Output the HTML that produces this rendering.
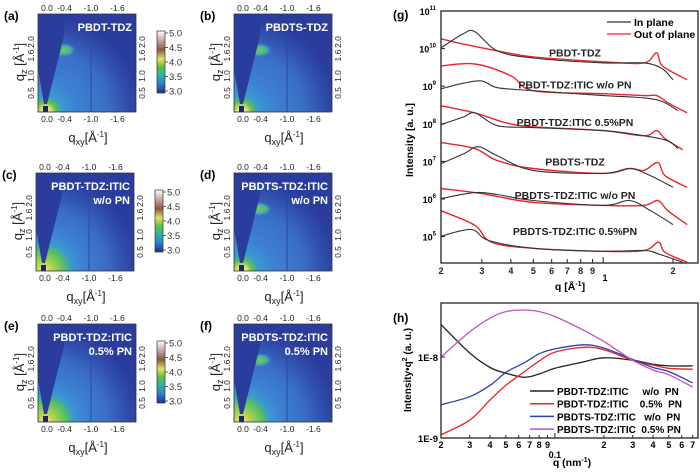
<!DOCTYPE html>
<html><head><meta charset="utf-8">
<style>
html,body{margin:0;padding:0;background:#fff;}
svg{display:block;font-family:"Liberation Sans",Arial,sans-serif;}
</style></head>
<body>
<svg id="fig" width="700" height="474" viewBox="0 0 700 474" xmlns="http://www.w3.org/2000/svg">
<defs>
  <linearGradient id="cbar" x1="0" y1="1" x2="0" y2="0">
    <stop offset="0" stop-color="#1f2f8f"/>
    <stop offset="0.15" stop-color="#2f7fd0"/>
    <stop offset="0.3" stop-color="#2fb5a0"/>
    <stop offset="0.42" stop-color="#5cc040"/>
    <stop offset="0.55" stop-color="#e8e060"/>
    <stop offset="0.7" stop-color="#8a5a40"/>
    <stop offset="0.85" stop-color="#c8a8a0"/>
    <stop offset="1" stop-color="#ffffff"/>
  </linearGradient>
  <radialGradient id="ringA" cx="0.08" cy="1" r="1.05">
    <stop offset="0" stop-color="#f4f0d0"/>
    <stop offset="0.05" stop-color="#e0e070"/>
    <stop offset="0.1" stop-color="#5cc050"/>
    <stop offset="0.16" stop-color="#3a9ad0"/>
    <stop offset="0.3" stop-color="#3d82d2"/>
    <stop offset="0.6" stop-color="#3a6ec6"/>
    <stop offset="0.78" stop-color="#3050ae"/>
    <stop offset="0.92" stop-color="#2b3d9c"/>
  </radialGradient>
  <radialGradient id="ringB" cx="0.08" cy="1" r="1.05">
    <stop offset="0" stop-color="#f4f0d0"/>
    <stop offset="0.06" stop-color="#c8d850"/>
    <stop offset="0.2" stop-color="#56c060"/>
    <stop offset="0.27" stop-color="#3a9ad0"/>
    <stop offset="0.38" stop-color="#3d82d2"/>
    <stop offset="0.6" stop-color="#3a6ec6"/>
    <stop offset="0.78" stop-color="#3050ae"/>
    <stop offset="0.92" stop-color="#2b3d9c"/>
  </radialGradient>
  <radialGradient id="spot" cx="0.5" cy="0.5" r="0.5">
    <stop offset="0" stop-color="#6ccf50"/>
    <stop offset="0.6" stop-color="#4cb0a0"/>
    <stop offset="1" stop-color="#3d8fd8" stop-opacity="0"/>
  </radialGradient>
</defs>
<g id="maps"></g>
<g id="g-plot"></g>
<g id="h-plot"></g>
</svg>
<script>
// ---------- data: panel (g) ----------
const gQ1 = [0.2,0.25,0.28,0.35,0.5,1.0,1.5,1.8,2.0];
const gIn1 = [10.02,10.40,10.45,9.94,9.75,9.62,9.62,9.46,9.17];
const gQ1r = [0.2,0.25,0.35,0.5,1.0,1.5,1.7,1.8,2.3];
const gOut1 = [10.26,10.12,9.94,9.78,9.65,9.62,9.89,9.54,9.17];
const gQ2 = [0.2,0.25,0.3,0.35,0.5,1.0,1.5,1.8,2.1];
const gIn2 = [8.93,9.08,9.14,8.96,8.88,8.75,8.69,8.59,8.35];
const gQ2r = [0.2,0.28,0.4,0.5,1.0,1.5,1.7,1.9,2.3];
const gOut2 = [9.54,9.59,9.28,8.88,8.80,8.75,8.75,8.56,8.29];
const gQ3 = [0.2,0.25,0.28,0.35,0.5,1.0,1.5,1.9,2.1];
const gIn3 = [7.98,8.18,8.29,7.95,7.90,7.82,7.68,7.55,7.34];
const gQ3r = [0.2,0.28,0.38,0.5,1.0,1.5,1.7,1.85,2.2];
const gOut3 = [8.48,8.29,8.03,7.92,7.82,7.68,7.82,7.60,7.31];
const gQ4 = [0.2,0.25,0.29,0.35,0.5,1.0,1.3,1.6,2.0];
const gIn4 = [6.94,7.20,7.39,7.15,6.76,6.68,6.81,6.62,6.31];
const gQ4r = [0.2,0.28,0.35,0.5,1.0,1.3,1.5,1.72,1.85,2.3];
const gOut4 = [7.50,7.34,7.02,6.81,6.68,6.81,6.76,6.97,6.62,6.31];
const gQ5 = [0.2,0.28,0.35,0.5,1.0,1.3,1.6,2.0];
const gIn5 = [6.01,6.17,6.12,5.96,5.83,5.96,5.69,5.32];
const gQ5r = [0.2,0.28,0.35,0.5,1.0,1.5,1.72,1.9,2.3];
const gOut5 = [6.28,6.17,6.07,5.91,5.83,5.83,5.96,5.69,5.32];
const gQ6 = [0.2,0.27,0.32,0.5,1.0,1.5,1.75,2.2];
const gIn6 = [5.01,5.19,4.90,4.69,4.61,4.63,4.53,4.32];
const gQ6r = [0.2,0.28,0.33,0.5,1.0,1.5,1.73,1.85,2.3];
const gOut6 = [5.69,5.30,4.85,4.69,4.61,4.63,4.85,4.58,4.32];
const gXTickVals = [0.2,0.3,0.4,0.5,0.6,0.7,0.8,0.9,1,2];
const gXTickLabels = ["2","3","4","5","6","7","8","9","","2"];
const gYTickExp = [11,10,9,8,7,6,5];
const gCurveLabels = ["PBDT-TDZ","PBDT-TDZ:ITIC w/o PN","PBDT-TDZ:ITIC 0.5%PN","PBDTS-TDZ","PBDTS-TDZ:ITIC w/o PN","PBDTS-TDZ:ITIC 0.5%PN"];
const gLabelLog = [9.9,9.05,8.05,7.0,6.1,5.15];

// ---------- data: panel (h) ----------
const hQ = [0.02,0.03,0.04,0.05,0.065,0.08,0.1,0.15,0.2,0.3,0.4,0.5,0.7];
const hBlack = [-7.60,-7.95,-8.13,-8.20,-8.25,-8.21,-8.14,-8.06,-8.01,-8.04,-8.09,-8.11,-8.11];
const hRed = [-8.96,-8.78,-8.53,-8.35,-8.18,-8.05,-7.94,-7.88,-7.91,-8.04,-8.10,-8.14,-8.15];
const hBlue = [-8.59,-8.49,-8.35,-8.19,-8.07,-7.96,-7.90,-7.85,-7.89,-8.03,-8.13,-8.18,-8.32];
const hMag = [-8.00,-7.69,-7.52,-7.44,-7.42,-7.44,-7.50,-7.67,-7.81,-8.04,-8.16,-8.22,-8.37];
const hXTickVals = [0.02,0.03,0.04,0.05,0.06,0.07,0.08,0.09,0.1,0.2,0.3,0.4,0.5,0.6,0.7];
const hXTickLabels = ["2","3","4","5","6","7","8","9","","2","3","4","5","6","7"];
const hLegend = ["PBDT-TDZ:ITIC     w/o  PN","PBDT-TDZ:ITIC    0.5%  PN","PBDTS-TDZ:ITIC   w/o  PN","PBDTS-TDZ:ITIC  0.5% PN"];

// ---------- data: GIWAXS panels ----------
const mapLetters = ["(a)","(b)","(c)","(d)","(e)","(f)"];
const mapTitles1 = ["PBDT-TDZ","PBDTS-TDZ","PBDT-TDZ:ITIC","PBDTS-TDZ:ITIC","PBDT-TDZ:ITIC","PBDTS-TDZ:ITIC"];
const mapTitles2 = ["","","w/o PN","w/o PN","0.5% PN","0.5% PN"];
const mapSpot = [1,1,0.3,1,0.4,1];
const qxyTicks = ["0.0","-0.4","-1.0","-1.6"];
const qxyVals = [0,-0.4,-1.0,-1.6];
const qzTicks = ["0.5","1.0","1.6","2.0"];
const qzVals = [0.5,1.0,1.6,2.0];
const cbTicks = ["5.0","4.5","4.0","3.5","3.0"];

const NS = "http://www.w3.org/2000/svg";
function mk(tag, attrs, parent, text){
  const e = document.createElementNS(NS, tag);
  for (const k in attrs) e.setAttribute(k, attrs[k]);
  if (text !== undefined) e.textContent = text;
  parent.appendChild(e);
  return e;
}

// ================= GIWAXS maps =================
const maps = document.getElementById('maps');
const mapPos = [[38,14],[234,14],[36,173],[234,173],[38,324],[234,324]];
mapPos.forEach((p, i) => {
  const [x0, y0] = p, S = 98;
  const g = mk('g', {}, maps);
  
  
  const qx = v => x0 + 9 + (-v) * 44;
  const qz = v => y0 + S - 2 - v * 34;
  const letter = mk('text', {x: x0 - 34, y: y0 + 6, 'font-size': 12, 'font-weight': 'bold'}, g, mapLetters[i]);
  
  
  mk('rect', {x: x0, y: y0, width: S, height: S, fill: '#2b3d9c'}, g);
  mk('rect', {x: x0, y: y0, width: S, height: S, fill: (i >= 4 || i === 2) ? 'url(#ringB)' : 'url(#ringA)'}, g);
  if (mapSpot[i] > 0.5) mk('ellipse', {cx: x0 + 25, cy: y0 + 36, rx: 13, ry: 7, fill: 'url(#spot)', opacity: mapSpot[i]}, g);
  // wedge (missing region near qxy = 0)
  mk('polygon', {points: `${x0},${y0} ${x0+26},${y0} ${x0+26},${y0+22} ${x0+9},${y0+S-8} ${x0+6},${y0+S-8} ${x0},${y0+55}`, fill: '#2b3d9c'}, g);
  mk('rect', {x: x0 + 5, y: y0 + S - 6, width: 5, height: 6, fill: '#1a2470'}, g);
  mk('line', {x1: qx(-1.0), y1: y0 + 24, x2: qx(-1.0), y2: y0 + S, stroke: '#2a4aa0', 'stroke-width': 1}, g);
  mk('rect', {x: x0, y: y0, width: S, height: S, fill: 'none', stroke: '#333', 'stroke-width': 0.8}, g);
  const t1 = mk('text', {x: x0 + S - 4, y: y0 + 17, 'font-size': 11, 'font-weight': 'bold', fill: '#fff', 'text-anchor': 'end'}, g, mapTitles1[i]);
  
  
  if (mapTitles2[i]) {
    const t2 = mk('text', {x: x0 + S - 4, y: y0 + 31, 'font-size': 11, 'font-weight': 'bold', fill: '#fff', 'text-anchor': 'end'}, g, mapTitles2[i]);
    
    
  }
  qxyVals.forEach((v, k) => {
    mk('text', {x: qx(v), y: y0 - 3, 'font-size': 8.5, 'text-anchor': 'middle', fill: '#222'}, g, qxyTicks[k]);
    mk('text', {x: qx(v), y: y0 + S + 10, 'font-size': 8.5, 'text-anchor': 'middle', fill: '#222'}, g, qxyTicks[k]);
  });
  qzVals.forEach((v, k) => {
    mk('text', {x: 0, y: 0, 'font-size': 8.5, 'text-anchor': 'middle', fill: '#222', transform: `translate(${x0 - 4},${qz(v)}) rotate(-90)`}, g, qzTicks[k]);
    mk('text', {x: 0, y: 0, 'font-size': 8.5, 'text-anchor': 'middle', fill: '#222', transform: `translate(${x0 + S + 9},${qz(v)}) rotate(-90)`}, g, qzTicks[k]);
  });
  const xl = mk('text', {x: x0 + 50, y: y0 + S + 30, 'font-size': 13, 'text-anchor': 'middle', fill: '#222'}, g);
  
  
  xl.innerHTML = 'q<tspan font-size="9" dy="3">xy</tspan><tspan dy="-3">[Å</tspan><tspan font-size="8" dy="-5">-1</tspan><tspan dy="5">]</tspan>';
  const yl = mk('text', {x: 0, y: 0, 'font-size': 13, 'text-anchor': 'middle', fill: '#222', transform: `translate(${x0 - 14},${y0 + 48}) rotate(-90)`}, g);
  
  
  yl.innerHTML = 'q<tspan font-size="9" dy="3">z</tspan><tspan dy="-3"> [Å</tspan><tspan font-size="8" dy="-5">-1</tspan><tspan dy="5">]</tspan>';
  if (i % 2 === 0) {
    const cx = x0 + 119, cy = y0 + 17, ch = 62;
    const cb = mk('rect', {x: cx, y: cy, width: 8, height: ch, fill: 'url(#cbar)', stroke: '#333', 'stroke-width': 0.7}, g);
    
    
    cbTicks.forEach((t, k) => {
      const yy = cy + 2 + k * (ch - 4) / 4;
      mk('line', {x1: cx + 8, y1: yy, x2: cx + 11, y2: yy, stroke: '#333', 'stroke-width': 0.8}, g);
      mk('text', {x: cx + 12, y: yy + 3.5, 'font-size': 9.5, fill: '#333'}, g, t);
    });
  }
});

// ================= panel (g) =================
const G = document.getElementById('g-plot');
const gL = 441, gR = 698, gT = 11, gB = 263;
const gx = q => gL + 232 * Math.log10(q / 0.2);
const gy = l => gT + (11 - l) * 37.6;
function curve(parent, xs, ys, fx, fy, color, w, name){
  const P = xs.map((x, k) => [fx(x), fy(ys[k])]);
  let d = 'M' + P[0][0].toFixed(1) + ',' + P[0][1].toFixed(1);
  for (let k = 0; k < P.length - 1; k++) {
    const p0 = P[Math.max(0, k - 1)], p1 = P[k], p2 = P[k + 1], p3 = P[Math.min(P.length - 1, k + 2)];
    const c1 = [p1[0] + (p2[0] - p0[0]) / 6, p1[1] + (p2[1] - p0[1]) / 6];
    const c2 = [p2[0] - (p3[0] - p1[0]) / 6, p2[1] - (p3[1] - p1[1]) / 6];
    d += ` C${c1[0].toFixed(1)},${c1[1].toFixed(1)} ${c2[0].toFixed(1)},${c2[1].toFixed(1)} ${p2[0].toFixed(1)},${p2[1].toFixed(1)}`;
  }
  const p = mk('path', {d: d, fill: 'none', stroke: color, 'stroke-width': w, 'stroke-linejoin': 'round'}, parent);
  
  
  return p;
}
const gClip = mk('clipPath', {id: 'gclip'}, G);
mk('rect', {x: gL, y: gT, width: gR - gL, height: gB - gT}, gClip);
const gc = mk('g', {'clip-path': 'url(#gclip)'}, G);
const gIns = [[gQ1,gIn1],[gQ2,gIn2],[gQ3,gIn3],[gQ4,gIn4],[gQ5,gIn5],[gQ6,gIn6]];
const gOuts = [[gQ1r,gOut1],[gQ2r,gOut2],[gQ3r,gOut3],[gQ4r,gOut4],[gQ5r,gOut5],[gQ6r,gOut6]];
gOuts.forEach((s, k) => curve(gc, s[0], s[1], gx, gy, '#e8262a', 1.4, 'out-of-plane-curve-' + (k + 1)));
gIns.forEach((s, k) => curve(gc, s[0], s[1], gx, gy, '#333', 1.1, 'in-plane-curve-' + (k + 1)));
gCurveLabels.forEach((t, k) => {
  const e = mk('text', {x: 575, y: gy(gLabelLog[k]) + 4, 'font-size': 10.5, 'font-weight': 'bold', 'text-anchor': 'middle', fill: '#222'}, G, t);
  
  
});
const gFrame = mk('rect', {x: gL, y: gT, width: gR - gL, height: gB - gT, fill: 'none', stroke: '#222', 'stroke-width': 1.3}, G);


gXTickVals.forEach((v, k) => {
  mk('line', {x1: gx(v), y1: gB, x2: gx(v), y2: gB - (gXTickLabels[k] === '' ? 6 : 4), stroke: '#222'}, G);
  mk('text', {x: gx(v), y: gB + 11, 'font-size': 9, 'font-weight': 'bold', 'text-anchor': 'middle', fill: '#222'}, G, gXTickLabels[k]);
});
mk('text', {x: 605, y: 281, 'font-size': 9, 'font-weight': 'bold', 'text-anchor': 'middle'}, G, '1');
gYTickExp.forEach(e => {
  mk('line', {x1: gL, y1: gy(e), x2: gL + 4, y2: gy(e), stroke: '#222'}, G);
  const t = mk('text', {x: gL - 5, y: gy(e) + 4, 'font-size': 9, 'font-weight': 'bold', 'text-anchor': 'end'}, G);
  t.innerHTML = '10<tspan font-size="6" dy="-5">' + e + '</tspan>';
});
const gTitle = mk('text', {x: 0, y: 0, 'font-size': 10.5, 'font-weight': 'bold', 'text-anchor': 'middle', transform: 'translate(413,140) rotate(-90)'}, G, 'Intensity [a. u.]');


const gxT = mk('text', {x: 570, y: 290, 'font-size': 10.5, 'font-weight': 'bold', 'text-anchor': 'middle'}, G);


gxT.innerHTML = 'q [Å<tspan font-size="7" dy="-4">-1</tspan><tspan dy="4">]</tspan>';
const gLet = mk('text', {x: 393, y: 19, 'font-size': 12, 'font-weight': 'bold'}, G, '(g)');


[['In plane','#333',22],['Out of plane','#e8262a',34]].forEach(r => {
  const lg = mk('g', {}, G);
  
  
  mk('line', {x1: 607, y1: r[2], x2: 631, y2: r[2], stroke: r[1], 'stroke-width': 1.3}, lg);
  mk('text', {x: 634, y: r[2] + 4, 'font-size': 10.5, 'font-weight': 'bold'}, lg, r[0]);
});

// ================= panel (h) =================
const H = document.getElementById('h-plot');
const hL = 441, hR = 698, hT = 303, hB = 438;
const hx = q => hL + 163 * Math.log10(q / 0.02);
const hy = l => hB - (l + 9) * 81;
const hClip = mk('clipPath', {id: 'hclip'}, H);
mk('rect', {x: hL, y: hT, width: hR - hL, height: hB - hT}, hClip);
const hc = mk('g', {'clip-path': 'url(#hclip)'}, H);
const hSeries = [[hBlack,'#222','series-pbdt-wo-pn'],[hRed,'#e8262a','series-pbdt-05pn'],[hBlue,'#2b3fb0','series-pbdts-wo-pn'],[hMag,'#c050c8','series-pbdts-05pn']];
hSeries.forEach(s => curve(hc, hQ, s[0], hx, hy, s[1], 1.3, s[2]));
const hFrame = mk('rect', {x: hL, y: hT, width: hR - hL, height: hB - hT, fill: 'none', stroke: '#222', 'stroke-width': 1.3}, H);


hXTickVals.forEach((v, k) => {
  mk('line', {x1: hx(v), y1: hB, x2: hx(v), y2: hB - (hXTickLabels[k] === '' ? 5 : 3), stroke: '#222'}, H);
  mk('text', {x: hx(v), y: hB + 10, 'font-size': 9, 'font-weight': 'bold', 'text-anchor': 'middle'}, H, hXTickLabels[k]);
});
mk('text', {x: hx(0.1), y: hB + 20, 'font-size': 9, 'font-weight': 'bold', 'text-anchor': 'middle'}, H, '0.1');
[[-8,'1E-8'],[-9,'1E-9']].forEach(t => {
  mk('line', {x1: hL, y1: hy(t[0]), x2: hL + 4, y2: hy(t[0]), stroke: '#222'}, H);
  mk('text', {x: hL - 3, y: hy(t[0]) + 4, 'font-size': 9.5, 'font-weight': 'bold', 'text-anchor': 'end'}, H, t[1]);
});
const hyT = mk('text', {x: 0, y: 0, 'font-size': 10, 'font-weight': 'bold', 'text-anchor': 'middle', transform: 'translate(411,370) rotate(-90)'}, H);


hyT.innerHTML = 'Intensity•q<tspan font-size="7" dy="-4">2</tspan><tspan dy="4"> (a. u.)</tspan>';
const hxT = mk('text', {x: 572, y: 466, 'font-size': 10.5, 'font-weight': 'bold', 'text-anchor': 'middle'}, H);


hxT.innerHTML = 'q (nm<tspan font-size="7" dy="-4">-1</tspan><tspan dy="4">)</tspan>';
const hLet = mk('text', {x: 393, y: 322, 'font-size': 12, 'font-weight': 'bold'}, H, '(h)');


hLegend.forEach((t, k) => {
  const yy = 391 + k * 12.7;
  const lg = mk('g', {}, H);
  
  
  mk('line', {x1: 530, y1: yy, x2: 554, y2: yy, stroke: hSeries[k][1], 'stroke-width': 1.5}, lg);
  const tx = mk('text', {x: 557, y: yy + 4, 'font-size': 10, 'font-weight': 'bold'}, lg, t);
  tx.style.whiteSpace = 'pre';
});
</script>
</body></html>
